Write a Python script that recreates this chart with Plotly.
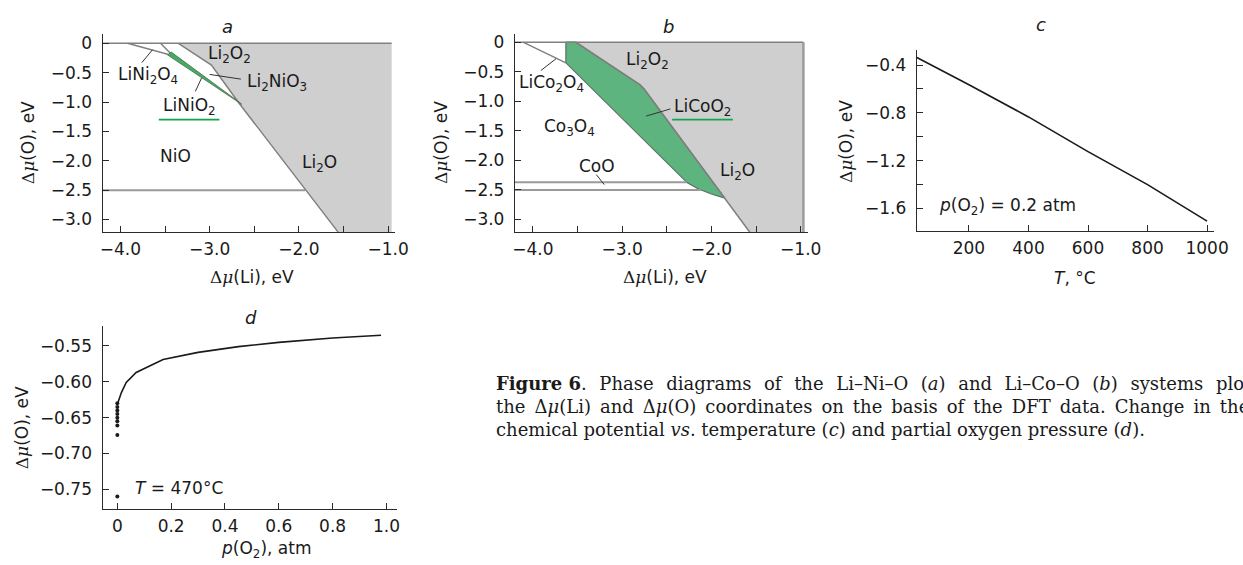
import plotly.graph_objects as go

W, H = 1243, 565

# ---------------- data ----------------
# Panel a: Li–Ni–O, coordinates are (Δμ(Li), Δμ(O)) in eV
a_li2o_x = [-3.35, -0.96, -0.96, -1.56, -2.67, -2.98]
a_li2o_y = [0.0, 0.0, -3.215, -3.215, -1.02, -0.37]
a_edge_x = [-3.35, -2.98, -2.67, -1.56]
a_edge_y = [0.0, -0.37, -1.02, -3.215]
a_linio2_x = [-3.47, -3.43, -2.67, -2.64]
a_linio2_y = [-0.20, -0.15, -1.00, -1.04]
a_lini2o4_x = [-3.92, -3.46]
a_lini2o4_y = [0.0, -0.19]
a_li2nio3_x = [-3.55, -3.44]
a_li2nio3_y = [0.0, -0.17]
a_top_x = [-4.2, -0.96]
a_top_y = [0.0, 0.0]
a_nio_x = [-4.2, -1.93]
a_nio_y = [-2.5, -2.5]

# Panel b: Li–Co–O
b_li2o_x = [-3.52, -0.97, -0.97, -1.57, -1.85, -2.75, -2.80]
b_li2o_y = [0.0, 0.0, -3.215, -3.215, -2.64, -0.80, -0.72]
b_edge_x = [-3.52, -2.80, -2.75, -1.85, -1.57]
b_edge_y = [0.0, -0.72, -0.80, -2.64, -3.215]
b_licoo2_x = [-3.63, -3.52, -2.80, -2.75, -1.85, -2.00, -2.15, -2.27, -3.63]
b_licoo2_y = [0.0, 0.0, -0.72, -0.80, -2.64, -2.57, -2.48, -2.38, -0.35]
b_lico2o4_x = [-4.11, -3.63]
b_lico2o4_y = [0.0, -0.35]
b_top_x = [-4.2, -0.97]
b_top_y = [0.0, 0.0]
b_coo_hi_x = [-4.2, -2.28]
b_coo_hi_y = [-2.37, -2.37]
b_coo_lo_x = [-4.2, -2.12]
b_coo_lo_y = [-2.50, -2.50]
b_right_x = [-0.97, -0.97]
b_right_y = [0.0, -3.215]

# Panel c: Δμ(O) vs temperature at p(O2) = 0.2 atm
c_t = [25, 200, 400, 600, 800, 1000]
c_mu = [-0.337, -0.564, -0.834, -1.124, -1.400, -1.706]

# Panel d: Δμ(O) vs oxygen partial pressure at 470 °C
d_p = [0.003, 0.015, 0.033, 0.07, 0.17, 0.30, 0.45, 0.60, 0.80, 0.98]
d_mu = [-0.628, -0.615, -0.601, -0.587, -0.569, -0.559, -0.551, -0.545, -0.539, -0.535]
d_dot_p = [0.0, 0.0, 0.0, 0.0, 0.0, 0.0, 0.0, 0.0, 0.0]
d_dot_mu = [-0.630, -0.635, -0.640, -0.645, -0.650, -0.655, -0.661, -0.674, -0.760]

# tick labels
ab_xticks = [-4.0, -3.5, -3.0, -2.5, -2.0, -1.5, -1.0]
ab_xtext = ["\u22124.0", "", "\u22123.0", "", "\u22122.0", "", "\u22121.0"]
ab_yticks = [0, -0.5, -1.0, -1.5, -2.0, -2.5, -3.0]
ab_ytext = ["0", "\u22120.5", "\u22121.0", "\u22121.5", "\u22122.0", "\u22122.5", "\u22123.0"]
c_xticks = [200, 400, 600, 800, 1000]
c_xtext = ["200", "400", "600", "800", "1000"]
c_yticks = [-0.4, -0.6, -0.8, -1.0, -1.2, -1.4, -1.6]
c_ytext = ["\u22120.4", "", "\u22120.8", "", "\u22121.2", "", "\u22121.6"]
d_xticks = [0, 0.2, 0.4, 0.6, 0.8, 1.0]
d_xtext = ["0", "0.2", "0.4", "0.6", "0.8", "1.0"]
d_yticks = [-0.55, -0.60, -0.65, -0.70, -0.75]
d_ytext = ["\u22120.55", "\u22120.60", "\u22120.65", "\u22120.70", "\u22120.75"]

# ---------------- styling ----------------
SANS = "DejaVu Sans"
SERIF = "DejaVu Serif"
FS = 17
GRAY_FILL = "#cfcfcf"
EDGE = "#808080"
GREEN_FILL = "#5db47e"
GREEN_STRIP = "#43ad62"
GREEN_LINE = "#12a54c"
INK = "#1a1a1a"


def px(x):
    return x / W


def py(y):
    return 1 - y / H


fig = go.Figure()


def poly(x, y, color, ax, line_color=None, lw=0):
    fig.add_trace(go.Scatter(
        x=x + [x[0]], y=y + [y[0]], mode="lines", fill="toself",
        fillcolor=color, line=dict(color=line_color or color, width=lw),
        hoverinfo="skip", showlegend=False, xaxis=ax[0], yaxis=ax[1]))


def line(x, y, ax, color=EDGE, width=1.5):
    fig.add_trace(go.Scatter(
        x=x, y=y, mode="lines", line=dict(color=color, width=width),
        hoverinfo="skip", showlegend=False, xaxis=ax[0], yaxis=ax[1]))


A = ("x", "y")
B = ("x2", "y2")
C = ("x3", "y3")
D = ("x4", "y4")

# panel a
poly(a_li2o_x, a_li2o_y, GRAY_FILL, A)
line(a_top_x, a_top_y, A)
line(a_nio_x, a_nio_y, A, color="#9a9a9a", width=2)
line(a_lini2o4_x, a_lini2o4_y, A)
line(a_li2nio3_x, a_li2nio3_y, A)
line(a_edge_x, a_edge_y, A)
poly(a_linio2_x, a_linio2_y, GREEN_STRIP, A, line_color="#4a6a52", lw=0.8)

# panel b
poly(b_li2o_x, b_li2o_y, GRAY_FILL, B)
poly(b_licoo2_x, b_licoo2_y, GREEN_FILL, B, line_color="#5f6f64", lw=1.2)
line(b_top_x, b_top_y, B)
line(b_lico2o4_x, b_lico2o4_y, B)
line(b_edge_x, b_edge_y, B)
line(b_coo_hi_x, b_coo_hi_y, B, color="#9a9a9a", width=2)
line(b_coo_lo_x, b_coo_lo_y, B, color="#9a9a9a", width=2)
line(b_right_x, b_right_y, B, color="#9c9c9c", width=2.5)

# panel c
line(c_t, c_mu, C, color=INK, width=1.6)

# panel d
line(d_p, d_mu, D, color=INK, width=1.6)
fig.add_trace(go.Scatter(x=d_dot_p, y=d_dot_mu, mode="markers",
                         marker=dict(color=INK, size=4), hoverinfo="skip",
                         showlegend=False, xaxis="x4", yaxis="y4"))

# leader lines and underlines
line([-3.76, -3.64], [-0.33, -0.11], A, color="#333", width=1)
line([-3.00, -2.65], [-0.53, -0.61], A, color="#333", width=1)
line([-3.16, -3.09], [-0.82, -0.59], A, color="#333", width=1)
line([-3.57, -2.89], [-1.30, -1.30], A, color=GREEN_LINE, width=1.6)
line([-3.91, -3.74], [-0.48, -0.28], B, color="#333", width=1)
line([-2.73, -2.46], [-1.25, -1.13], B, color="#333", width=1)
line([-3.29, -3.20], [-2.24, -2.41], B, color="#333", width=1)
line([-2.44, -1.76], [-1.31, -1.31], B, color=GREEN_LINE, width=1.6)


def axis_common(dom, rng, tv, tt, standoff):
    return dict(domain=dom, range=rng, tickvals=tv, ticktext=tt,
                showline=True, linecolor="#2a2a2a", linewidth=1.3,
                ticks="inside", ticklen=6, tickwidth=1.2, tickcolor="#2a2a2a",
                showgrid=False, zeroline=False, fixedrange=True,
                ticklabelstandoff=standoff,
                tickfont=dict(family=SANS, size=FS, color=INK))


def xdom(a, b):
    return [px(a), px(b)]


def ydom(top, bottom):
    return [py(bottom), py(top)]


XS = 1
fig.update_layout(
    width=W, height=H, margin=dict(l=0, r=0, t=0, b=0),
    paper_bgcolor="white", plot_bgcolor="rgba(0,0,0,0)",
    showlegend=False,
    xaxis=dict(**axis_common(xdom(101, 398), [-4.2, -0.92], ab_xticks, ab_xtext, XS), anchor="y"),
    yaxis=dict(**axis_common(ydom(32, 231), [-3.216, 0.16], ab_yticks, ab_ytext, 6), anchor="x"),
    xaxis2=dict(**axis_common(xdom(519.5, 816.7), [-4.2, -0.92], ab_xticks, ab_xtext, XS), anchor="y2"),
    yaxis2=dict(**axis_common(ydom(32, 231), [-3.215, 0.14], ab_yticks, ab_ytext, 6), anchor="x2"),
    xaxis3=dict(**axis_common(xdom(927.3, 1228.7), [25, 1023], c_xticks, c_xtext, XS), anchor="y3"),
    yaxis3=dict(**axis_common(ydom(47.7, 230), [-1.79, -0.27], c_yticks, c_ytext, 6), anchor="x3"),
    xaxis4=dict(**axis_common(xdom(101, 400), [-0.055, 1.04], d_xticks, d_xtext, XS), anchor="y4"),
    yaxis4=dict(**axis_common(ydom(325, 509.3), [-0.778, -0.522], d_yticks, d_ytext, 6), anchor="x4"),
)

ann = []


def label(text, x, y, xref, yref, size=FS, xanchor="center", family=SANS):
    ann.append(dict(text=text, x=x, y=y, xref=xref, yref=yref, showarrow=False,
                    xanchor=xanchor, yanchor="middle",
                    font=dict(family=family, size=size, color=INK)))


def paper_label(text, x, y, size=FS, angle=0, xanchor="center", family=SANS):
    ann.append(dict(text=text, x=px(x), y=py(y), xref="paper", yref="paper",
                    showarrow=False, xanchor=xanchor, yanchor="middle",
                    textangle=angle, font=dict(family=family, size=size, color=INK)))


# phase labels, panel a
label("Li<sub>2</sub>O<sub>2</sub>", -2.78, -0.19, "x", "y")
label("LiNi<sub>2</sub>O<sub>4</sub>", -3.69, -0.55, "x", "y")
label("Li<sub>2</sub>NiO<sub>3</sub>", -2.25, -0.66, "x", "y")
label("LiNiO<sub>2</sub>", -3.23, -1.07, "x", "y")
label("NiO", -3.385, -1.92, "x", "y")
label("Li<sub>2</sub>O", -1.77, -2.04, "x", "y")

# phase labels, panel b
label("Li<sub>2</sub>O<sub>2</sub>", -2.72, -0.31, "x2", "y2")
label("LiCo<sub>2</sub>O<sub>4</sub>", -3.79, -0.70, "x2", "y2")
label("LiCoO<sub>2</sub>", -2.10, -1.10, "x2", "y2")
label("Co<sub>3</sub>O<sub>4</sub>", -3.595, -1.45, "x2", "y2")
label("CoO", -3.28, -2.10, "x2", "y2")
label("Li<sub>2</sub>O", -1.71, -2.19, "x2", "y2")

# in-plot notes
label("<i>p</i>(O<sub>2</sub>) = 0.2 atm", 93, -1.58, "x3", "y3", xanchor="left")
label("<i>T</i> = 470\u00b0C", 0.057, -0.7486, "x4", "y4", xanchor="left")

# panel letters
paper_label("<i>a</i>", 228, 25, size=18)
paper_label("<i>b</i>", 675, 25, size=18)
paper_label("<i>c</i>", 1053, 23, size=18)
paper_label("<i>d</i>", 252, 317, size=18)

# axis titles
DMU = "<span style='font-family:DejaVu Serif'>\u0394<i>\u03bc</i></span>"
paper_label(DMU + "(O), eV", 25, 141, angle=-90)
paper_label(DMU + "(O), eV", 444, 141, angle=-90)
paper_label(DMU + "(O), eV", 855, 140, angle=-90)
paper_label(DMU + "(O), eV", 20, 427, angle=-90)
paper_label(DMU + "(Li), eV", 253, 276)
paper_label(DMU + "(Li), eV", 672, 276)
paper_label("<i>T</i>, \u00b0C", 1088, 277)
paper_label("<i>p</i>(O<sub>2</sub>), atm", 267, 549)

# caption; the first two lines are justified (set with widened word spaces)
CAP = 18
SP1 = "\u2002\u2009"
SP2 = "\u2002"
cap1 = ("<b>Figure 6</b>. Phase diagrams of the Li\u2013Ni\u2013O (<i>a</i>) and "
        "Li\u2013Co\u2013O (<i>b</i>) systems plotted in")
cap2 = ("the \u0394<i>\u03bc</i>(Li) and \u0394<i>\u03bc</i>(O) coordinates on the basis "
        "of the DFT data. Change in the oxygen")
cap3 = ("chemical potential <i>vs</i>. temperature (<i>c</i>) and partial oxygen "
        "pressure (<i>d</i>).")
paper_label(cap1.replace(" ", SP1).replace("<b>Figure" + SP1, "<b>Figure "),
            498, 383, size=CAP, xanchor="left", family=SERIF)
paper_label(cap2.replace(" ", SP2), 498, 406, size=CAP, xanchor="left", family=SERIF)
paper_label(cap3, 498, 429, size=CAP, xanchor="left", family=SERIF)

fig.update_layout(annotations=ann)
fig.write_html("out.html")
